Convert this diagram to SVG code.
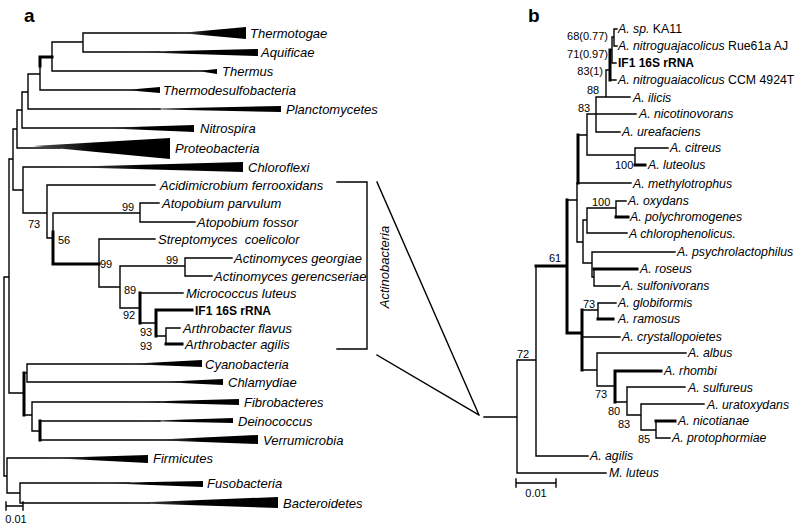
<svg xmlns="http://www.w3.org/2000/svg" width="798" height="527" viewBox="0 0 798 527">
<style>
.t{fill:none;stroke:#000;stroke-width:1.4;stroke-linecap:square}
.k{fill:none;stroke:#000;stroke-width:3;stroke-linecap:square}
.sp{font-family:"Liberation Sans",Arial,sans-serif;font-size:13px;font-style:italic;fill:#000}
.spb{font-family:"Liberation Sans",Arial,sans-serif;font-size:12.3px;font-style:italic;fill:#000}
.n{font-style:normal}
.bd{font-family:"Liberation Sans",Arial,sans-serif;font-size:12px;font-weight:bold;fill:#000}
.num{font-family:"Liberation Sans",Arial,sans-serif;font-size:11px;fill:#000}
.pl{font-family:"Liberation Sans",Arial,sans-serif;font-size:19px;font-weight:bold;fill:#000}
.tri{fill:url(#tg);stroke:none}
</style>
<defs>
<linearGradient id="tg" x1="0" y1="0" x2="1" y2="0">
<stop offset="0" stop-color="#555"/>
<stop offset="0.45" stop-color="#000"/>
<stop offset="1" stop-color="#000"/>
</linearGradient>
</defs>
<rect width="798" height="527" fill="#fff"/>
<text class="pl" x="24" y="22">a</text>
<text class="pl" x="528" y="22">b</text>

<g id="connectors">
<!-- panel a -->
<path class="t" d="M83,33V52M83,33H200M83,52H160M52,42V71M52,42H83M52,71H205M40,57V90M40,90H140M28,74V109M28,74H40M28,109H160M22,92V128M22,92H28M22,128H130M17,110V148M17,110H22M17,148H60M13,129V190M13,129H17M13,190H23M23,167V213M23,167H100M47,185V238M23,213H47M47,185H155M53,213V264M47,238H53M53,213H140M140,203V222M140,203H159M140,222H195M99,239V287M99,239H155M120,266V308M99,287H120M185,258V276M120,266H185M185,258H232M185,276H212M120,308H140M140,293H183M140,323H156M166,328V344M156,336H166M166,328H180M9,159V393M9,159H13M9,393H24M27,364V382M24,373H27M27,364H150M27,382H180M32,402V431M24,415H32M32,402H160M32,431H40M40,421H160M40,440H180M4,277V476M4,277H9M7,458V493M4,476H7M7,458H80M20,483V503M7,493H20M20,483H130M20,503H150"/>
<path class="k" d="M40,57V66M40,57H52M53,232V264M53,264H99M140,293V323M156,310V336M156,310H192M166,344H182M24,373V415M40,421V440"/>
<!-- bracket lines -->
<path class="t" d="M337,182H367V349H337" />
<path class="t" stroke-width="2" d="M377,182L479,415M377,355L479,415"/>
<!-- panel b -->
<path class="t" d="M614,29V46M614,29H617M614,46H617M612,37V63M612,37H614M612,63H616M610,50H612M610,80H616M606,70V97M606,70H610M596,97H630M596,97V132M596,114H636M596,132H620M587,114V155M587,114H596M587,155H635M635,148V165M635,148H668M578,135H587M578,183H631M577,183V242M577,242H583M567,200H577M583,220V263M583,220H587M583,263H592M587,208V233M587,208H616M616,201V217M616,201H626M587,233H627M592,252V277M592,252H675M592,277H594M594,269V286M594,286H620M598,303V319M582,310H598M598,303H616M582,337H620M582,370H597M597,353V386M597,353H686M597,386H615M615,402H627M627,387V415M627,387H685M627,415H641M641,404V430M641,404H704M641,430H656M656,421V438M656,438H670M536,266V456M517,360H536M517,360V473M484,417H517M536,456H588M517,473H606"/>
<path class="k" d="M610,50V80M578,135V183M635,165H645M567,200V333M536,266H567M616,217H628M594,269H637M582,310V370M567,333H582M598,319H613M615,371V402M615,371H661M656,421H675"/>
<!-- scale bars -->
<path class="t" stroke-width="2" d="M6,506H23M6,502V510M23,502V510"/>
<path class="t" stroke-width="2" d="M516,483H556M516,479V487M556,479V487"/>
</g>

<g id="panel-a-leaves">
<g id="a-thermotogae"><polygon class="tri" points="180,33 246,27 246,39"/><text class="sp" x="250" y="38">Thermotogae</text></g>
<g id="a-aquificae"><polygon class="tri" points="130,52 258,49 258,56"/><text class="sp" x="261" y="57">Aquificae</text></g>
<g id="a-thermus"><polygon class="tri" points="198,71 217,69 217,74"/><text class="sp" x="222" y="76">Thermus</text></g>
<g id="a-thermodesulfobacteria"><polygon class="tri" points="125,90 160,87 160,93"/><text class="sp" x="163" y="95">Thermodesulfobacteria</text></g>
<g id="a-planctomycetes"><polygon class="tri" points="138,109 281,106 281,112"/><text class="sp" x="286" y="114">Planctomycetes</text></g>
<g id="a-nitrospira"><polygon class="tri" points="100,128 194,125 194,132"/><text class="sp" x="200" y="133">Nitrospira</text></g>
<g id="a-proteobacteria"><polygon class="tri" points="33,146 170,138 170,159"/><text class="sp" x="175" y="153">Proteobacteria</text></g>
<g id="a-chloroflexi"><polygon class="tri" points="62,167 243,162 243,172"/><text class="sp" x="248" y="172">Chloroflexi</text></g>
<g id="a-acidimicrobium"><text class="sp" x="160" y="190">Acidimicrobium ferrooxidans</text></g>
<g id="a-atopobium-parvulum"><text class="sp" x="162" y="208">Atopobium parvulum</text></g>
<g id="a-atopobium-fossor"><text class="sp" x="197" y="227">Atopobium fossor</text></g>
<g id="a-streptomyces"><text class="sp" x="158" y="244" xml:space="preserve">Streptomyces  coelicolor</text></g>
<g id="a-actinomyces-georgiae"><text class="sp" x="234" y="263">Actinomyces georgiae</text></g>
<g id="a-actinomyces-gerencseriae"><text class="sp" x="214" y="281">Actinomyces gerencseriae</text></g>
<g id="a-micrococcus"><text class="sp" x="186" y="298">Micrococcus luteus</text></g>
<g id="a-if1"><text class="bd" x="195" y="315">IF1 16S rRNA</text></g>
<g id="a-arthrobacter-flavus"><text class="sp" x="183" y="333">Arthrobacter flavus</text></g>
<g id="a-arthrobacter-agilis"><text class="sp" x="185" y="349">Arthrobacter agilis</text></g>
<g id="a-actinobacteria"><text class="sp" transform="translate(389,267) rotate(-90)" text-anchor="middle">Actinobacteria</text></g>
<g id="a-cyanobacteria"><polygon class="tri" points="127,364 202,360 202,367"/><text class="sp" x="205" y="369">Cyanobacteria</text></g>
<g id="a-chlamydiae"><polygon class="tri" points="160,382 223,379 223,385"/><text class="sp" x="228" y="387">Chlamydiae</text></g>
<g id="a-fibrobacteres"><polygon class="tri" points="130,402 239,399 239,405"/><text class="sp" x="244" y="407">Fibrobacteres</text></g>
<g id="a-deinococcus"><polygon class="tri" points="140,421 233,418 233,423"/><text class="sp" x="238" y="426">Deinococcus</text></g>
<g id="a-verrumicrobia"><polygon class="tri" points="150,440 258,435 258,444"/><text class="sp" x="263" y="445">Verrumicrobia</text></g>
<g id="a-firmicutes"><polygon class="tri" points="50,458 148,455 148,463"/><text class="sp" x="153" y="463">Firmicutes</text></g>
<g id="a-fusobacteria"><polygon class="tri" points="100,483 203,481 203,487"/><text class="sp" x="207" y="488">Fusobacteria</text></g>
<g id="a-bacteroidetes"><polygon class="tri" points="127,503 278,497 278,508"/><text class="sp" x="283" y="508">Bacteroidetes</text></g>
<g id="a-scale"><text class="num" x="16" y="523" text-anchor="middle">0.01</text></g>
</g>

<g id="panel-a-support">
<text class="num" x="28" y="228">73</text>
<text class="num" x="58" y="244">56</text>
<text class="num" x="122" y="211">99</text>
<text class="num" x="100" y="268">99</text>
<text class="num" x="166" y="264">99</text>
<text class="num" x="124" y="294">89</text>
<text class="num" x="123" y="319">92</text>
<text class="num" x="140" y="336">93</text>
<text class="num" x="140" y="350">93</text>
</g>

<g id="panel-b-leaves">
<g id="b-ka11"><text class="spb" x="618" y="33">A. sp.<tspan class="n"> KA11</tspan></text></g>
<g id="b-rue61a"><text class="spb" x="618" y="50">A. nitroguajacolicus<tspan class="n"> Rue61a AJ</tspan></text></g>
<g id="b-if1"><text class="bd" x="618" y="67">IF1 16S rRNA</text></g>
<g id="b-ccm"><text class="spb" x="618" y="84">A. nitroguaiacolicus<tspan class="n"> CCM 4924T</tspan></text></g>
<g id="b-ilicis"><text class="spb" x="633" y="102">A. ilicis</text></g>
<g id="b-nicotinovorans"><text class="spb" x="639" y="118">A. nicotinovorans</text></g>
<g id="b-ureafaciens"><text class="spb" x="622" y="136">A. ureafaciens</text></g>
<g id="b-citreus"><text class="spb" x="670" y="152">A. citreus</text></g>
<g id="b-luteolus"><text class="spb" x="648" y="169">A. luteolus</text></g>
<g id="b-methylotrophus"><text class="spb" x="633" y="188">A. methylotrophus</text></g>
<g id="b-oxydans"><text class="spb" x="628" y="205">A. oxydans</text></g>
<g id="b-polychromogenes"><text class="spb" x="630" y="221">A. polychromogenes</text></g>
<g id="b-chlorophenolicus"><text class="spb" x="629" y="238">A chlorophenolicus.</text></g>
<g id="b-psychrolactophilus"><text class="spb" x="677" y="256">A. psychrolactophilus</text></g>
<g id="b-roseus"><text class="spb" x="640" y="273">A. roseus</text></g>
<g id="b-sulfonivorans"><text class="spb" x="622" y="290">A. sulfonivorans</text></g>
<g id="b-globiformis"><text class="spb" x="618" y="307">A. globiformis</text></g>
<g id="b-ramosus"><text class="spb" x="618" y="323">A. ramosus</text></g>
<g id="b-crystallopoietes"><text class="spb" x="622" y="341">A. crystallopoietes</text></g>
<g id="b-albus"><text class="spb" x="688" y="357">A. albus</text></g>
<g id="b-rhombi"><text class="spb" x="664" y="375">A. rhombi</text></g>
<g id="b-sulfureus"><text class="spb" x="688" y="392">A. sulfureus</text></g>
<g id="b-uratoxydans"><text class="spb" x="707" y="409">A. uratoxydans</text></g>
<g id="b-nicotianae"><text class="spb" x="678" y="425">A. nicotianae</text></g>
<g id="b-protophormiae"><text class="spb" x="672" y="442">A. protophormiae</text></g>
<g id="b-agilis"><text class="spb" x="590" y="460">A. agilis</text></g>
<g id="b-mluteus"><text class="spb" x="609" y="477">M. luteus</text></g>
<g id="b-scale"><text class="num" x="536" y="497" text-anchor="middle">0.01</text></g>
</g>

<g id="panel-b-support">
<text class="num" x="608" y="40" text-anchor="end">68(0.77)</text>
<text class="num" x="608" y="58" text-anchor="end">71(0.97)</text>
<text class="num" x="603" y="75" text-anchor="end">83(1)</text>
<text class="num" x="587" y="94">88</text>
<text class="num" x="578" y="112">83</text>
<text class="num" x="615" y="169">100</text>
<text class="num" x="592" y="206">100</text>
<text class="num" x="549" y="262">61</text>
<text class="num" x="583" y="308">73</text>
<text class="num" x="517" y="358">72</text>
<text class="num" x="595" y="398">73</text>
<text class="num" x="608" y="415">80</text>
<text class="num" x="618" y="428">83</text>
<text class="num" x="638" y="443">85</text>
</g>
</svg>
